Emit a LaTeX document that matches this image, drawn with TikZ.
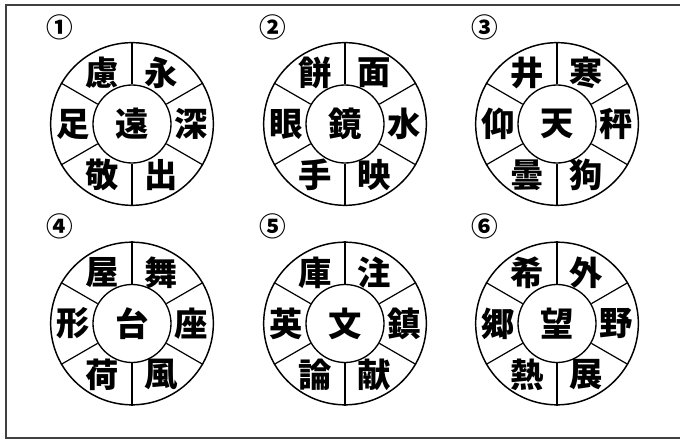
\documentclass[tikz,border=0pt]{standalone}
\usepackage{fontspec}
\newfontfamily\jpfont{Noto Sans CJK JP}
\usetikzlibrary{positioning,calc}
\tikzset{
    % Define style for the wheels
    rim/.style={
           circle, draw,
           line width=1.1pt,
           minimum size=122pt,
           inner sep=0pt},
    hub/.style={
           circle, draw,
           line width=1pt,
           minimum size=58.5pt,
           inner sep=0pt},
    % Define style for the texts
    kanji/.style={
           font=\jpfont\bfseries\fontsize{25}{25}\selectfont,
           inner sep=0pt},
    num/.style={
           font=\jpfont\bfseries\fontsize{20}{20}\selectfont,
           inner sep=0pt},
    % Define spoke style
    spoke/.style={
           line width=0.9pt}
}

\begin{document}
\begin{tikzpicture}[x=0.75pt,y=0.75pt]
	\useasboundingbox (0,0) rectangle (680,439);
	\draw[line width=1.5pt, black!75] (6,1) rectangle (684,434);

	% Wheels: number/x/y/top right/right/bottom right/bottom left/left/top left/centre/label
	\foreach \n/\x/\y/\ka/\kb/\kc/\kd/\ke/\kf/\kz/\lab in {
	        1/132/315/永/深/出/敬/足/慮/遠/①,
	        2/345/315/面/水/映/手/眼/餅/鏡/②,
	        3/557/315/寒/秤/狗/曇/仰/井/天/③,
	        4/132/115.5/舞/座/風/荷/形/屋/台/④,
	        5/345/115.5/注/鎮/献/論/英/庫/文/⑤,
	        6/557/115.5/外/野/展/熱/郷/希/望/⑥}{
		\node[rim](w\n) at (\x,\y) {};
		\node[hub](w\n-in) at (w\n) {};
		\node[kanji](w\n-z) at (w\n) {\kz};
		\node[num](w\n-num) at ($(w\n)+(-72,97)$) {\lab};

		\foreach \ang in {90,30,-30,-90,-150,150}
			\draw[spoke] (w\n-in.\ang) -- (w\n.\ang);

		\node[kanji](w\n-a) at ($(w\n)+(60:59)$) {\ka};
		\node[kanji](w\n-b) at ($(w\n)+(0:59)$) {\kb};
		\node[kanji](w\n-c) at ($(w\n)+(-60:59)$) {\kc};
		\node[kanji](w\n-d) at ($(w\n)+(-120:59)$) {\kd};
		\node[kanji](w\n-e) at ($(w\n)+(180:59)$) {\ke};
		\node[kanji](w\n-f) at ($(w\n)+(120:59)$) {\kf};
	}
\end{tikzpicture}
\end{document}
